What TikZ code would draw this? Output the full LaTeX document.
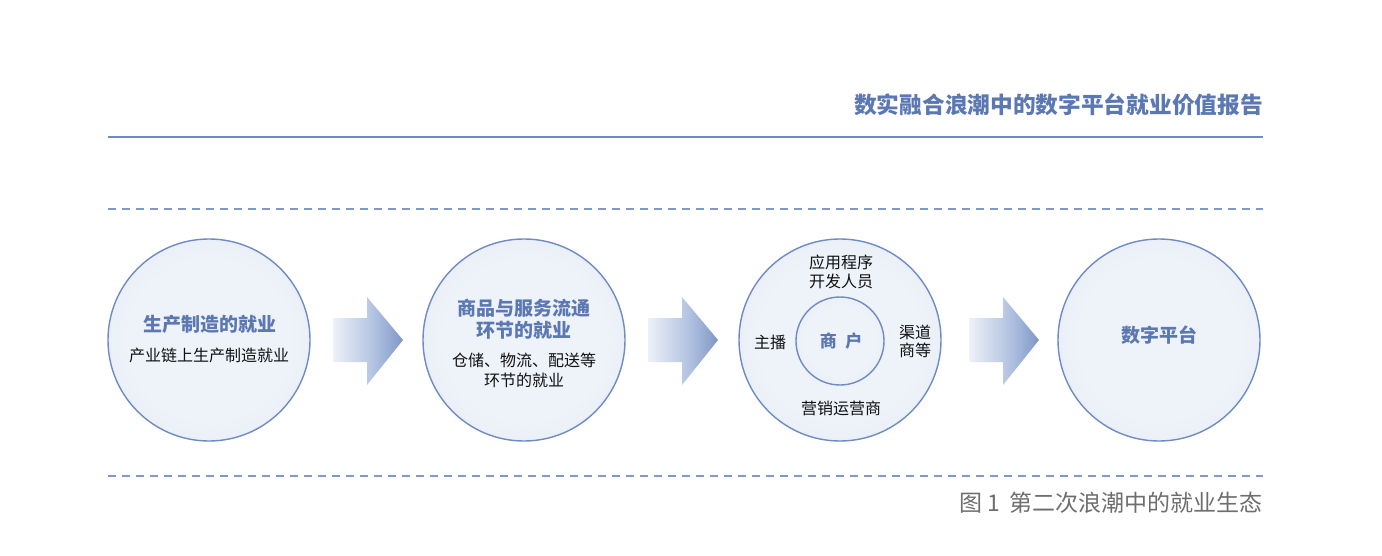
\documentclass[tikz,border=0pt]{standalone}
\usepackage{fontspec}
\setmainfont{Noto Sans CJK SC}
\definecolor{titleblue}{HTML}{5B78B3}
\definecolor{lineblue}{HTML}{7089C0}
\definecolor{dashblue}{HTML}{7F99C9}
\definecolor{bubin}{HTML}{EEF2F9}
\definecolor{bubmid}{HTML}{E2E9F4}
\definecolor{bubout}{HTML}{D3DDEE}
\definecolor{bubline}{HTML}{6F8BC4}
\definecolor{arrowc}{HTML}{3F61A6}
\definecolor{arrowlight}{HTML}{B0C1E0}
\definecolor{capgrey}{HTML}{6E6E6E}
\definecolor{txt}{HTML}{111111}
\newcommand\fsz[2]{\fontsize{#1}{#2}\selectfont}
\pgfdeclareradialshading{bubsh}{\pgfpoint{0bp}{0bp}}{color(0bp)=(bubin); color(20bp)=(bubin); color(40bp)=(bubmid); color(50bp)=(bubout)}
\pgfdeclarehorizontalshading{arrsh}{100bp}{color(0bp)=(white); color(22bp)=(white!94!arrowc); color(55bp)=(arrowlight); color(100bp)=(arrowc)}
\begin{document}
\begin{tikzpicture}[x=1pt,y=-1pt,
  bubble/.style={circle, draw=bubline, line width=1.4pt, shading=bubsh, minimum size=202pt, inner sep=0pt},
  inbubble/.style={circle, draw=bubline, line width=1.4pt, shading=bubsh, minimum size=88pt, inner sep=0pt},
  btitle/.style={text=titleblue, font=\fsz{19}{22}\bfseries, align=center, inner sep=0pt},
  btext/.style={text=txt, font=\fsz{16}{20}, align=center, inner sep=0pt},
  arrowfill/.style={shading=arrsh, draw=none}
]
\useasboundingbox (0,0) rectangle (1382,556);
\fill[white] (0,0) rectangle (1382,556);

% header
\node[anchor=east, inner sep=0pt, text=titleblue, font=\fsz{22.7}{26}\bfseries] (title) at (1263,105) {数实融合浪潮中的数字平台就业价值报告};
\draw[lineblue, line width=2pt] (108,137) -- (1263,137);
\draw[dashblue, line width=1.2pt, dash pattern=on 8pt off 6pt] (108,209) -- (1263,209);
\draw[dashblue, line width=1.2pt, dash pattern=on 8pt off 6pt] (108,476) -- (1263,476);

% bubbles
\node[bubble] (c1) at (209,340) {};
\node[bubble] (c2) at (524,340) {};
\node[bubble] (c3) at (840,340) {};
\node[inbubble] (c3in) at (840,341) {};
\node[bubble] (c4) at (1159,340) {};

% arrows
\foreach \x in {333,648,969}{
  \shade[arrowfill] (\x,318) -- ++(34,0) -- ++(0,-21) -- ++(36,43) -- ++(-36,45) -- ++(0,-23) -- ++(-34,0) -- cycle;
}

% circle 1
\node[btitle] (t1) at (210,324) {生产制造的就业};
\node[btext] (s1) at (209,355) {产业链上生产制造就业};

% circle 2
\node[btitle] (t2) at (524,319) {商品与服务流通\\环节的就业};
\node[btext] (s2) at (524,370) {仓储、物流、配送等\\环节的就业};

% circle 3
\node[text=titleblue, font=\fsz{17}{20}\bfseries, inner sep=0pt] (m3) at (841,341) {商\hspace{0.5em}户};
\node[btext, font=\fsz{16}{19}] (u3) at (841,272) {应用程序\\开发人员};
\node[btext] (l3) at (770,342) {主播};
\node[btext, font=\fsz{16}{18}] (r3) at (915,341) {渠道\\商等};
\node[btext] (b3) at (841,408) {营销运营商};

% circle 4
\node[btitle] (t4) at (1159,335) {数字平台};

% caption
\node[anchor=east, inner sep=0pt, text=capgrey, font=\fsz{23}{26}] (cap) at (1263,503) {图 1\hspace{0.4em}第二次浪潮中的就业生态};
\end{tikzpicture}
\end{document}
